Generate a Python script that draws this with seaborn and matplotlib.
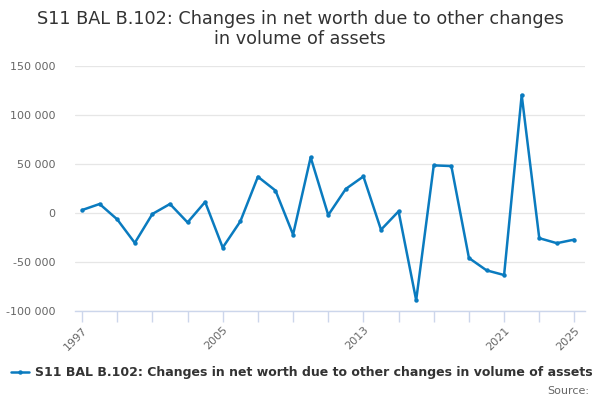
import matplotlib
matplotlib.use("Agg")
import matplotlib.pyplot as plt
import seaborn as sns
import pandas as pd
from matplotlib.lines import Line2D
from matplotlib.ticker import FuncFormatter

years = list(range(1997, 2026))
values = [3000, 9200, -6500, -30500, -1000, 9200, -9600, 11300, -35300, -8600,
          37000, 22900, -22000, 56800, -2100, 24600, 37300, -17100, 1700, -89000,
          48600, 47900, -45900, -58500, -63300, 120400, -25700, -30800, -27100]
series_name = "S11 BAL B.102: Changes in net worth due to other changes in volume of assets"
title = "S11 BAL B.102: Changes in net worth due to other changes\nin volume of assets"
labelled_years = [1997, 2005, 2013, 2021, 2025]
yticks = [-100000, -50000, 0, 50000, 100000, 150000]

color = "#0a7bbf"
df = pd.DataFrame({"year": years, "value": values})

sns.set_theme(style="white")
plt.rcParams['font.family'] = ['DejaVu Sans']

fig = plt.figure(figsize=(6, 4), dpi=100)
ax = fig.add_axes([0.125, 0.2225, 0.85, 0.6125])
sns.lineplot(data=df, x="year", y="value", ax=ax, color=color, linewidth=1.8,
             marker="o", markersize=3.2, markeredgewidth=0)

ax.set_xlim(1996.6, 2025.6)
ax.set_ylim(-100000, 150000)
ax.set_yticks(yticks)
ax.yaxis.set_major_formatter(FuncFormatter(lambda v, p: f"{int(v):,}".replace(",", " ")))
ax.grid(axis="y", color="#e6e6e6", linewidth=0.9)
ax.set_axisbelow(True)

tick_years = sorted(set(list(range(1997, 2026, 2)) + [2005, 2013, 2021]))
ax.set_xticks(tick_years)
ax.set_xticklabels([str(y) if y in labelled_years else "" for y in tick_years],
                   rotation=45, ha="right", rotation_mode="anchor")
ax.tick_params(axis="x", bottom=True, length=8, color="#ccd6eb", width=1, labelsize=8,
               labelcolor="#666666", pad=2, direction="out")
ax.tick_params(axis="y", left=False, length=0, labelsize=8, labelcolor="#666666", pad=14)
for s in ["top", "right", "left"]:
    ax.spines[s].set_visible(False)
ax.spines["bottom"].set_color("#ccd6eb")
ax.spines["bottom"].set_linewidth(1)
ax.set_xlabel("")
ax.set_ylabel("")

fig.text(0.5, 0.975, title, ha="center", va="top", fontsize=12.7, color="#333333", linespacing=1.15)

handle = Line2D([0], [0], color=color, linewidth=1.8, marker="o", markersize=3.2, markeredgewidth=0)
fig.legend([handle], [series_name], loc="center left", bbox_to_anchor=(0.0, 0.068), frameon=False,
           prop={"weight": "bold", "size": 9.0}, handlelength=1.4, handletextpad=0.5, labelcolor="#333333")
fig.text(0.982, 0.022, "Source:", ha="right", va="center", fontsize=8, color="#666666")

fig.savefig("out.png", dpi=100)
